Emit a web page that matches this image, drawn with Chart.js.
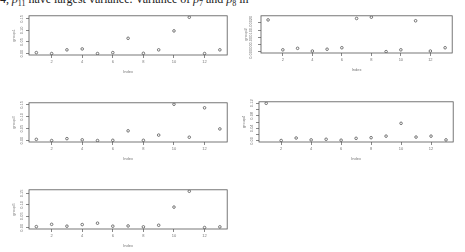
<!DOCTYPE html>
<html>
<head>
<meta charset="utf-8">
<script src="https://cdn.jsdelivr.net/npm/chart.js@4/dist/chart.umd.min.js"></script>
<style>
  body { margin: 0; width: 465px; height: 252px; background: #fff; overflow: hidden; position: relative; }
  canvas { position: absolute; }
  #caption { position: absolute; left: 0; top: -8px; font: 12px "Liberation Serif", serif; color: #222; white-space: nowrap; }
  #caption sub { font-size: 8px; }
</style>
</head>
<body>
<div id="caption">4, <i>ρ</i><sub>11</sub> have largest variance. Variance of <i>ρ</i><sub>7</sub> and <i>ρ</i><sub>8</sub> in</div>
<canvas id="c1" width="232" height="66" style="left:0px;top:11px"></canvas>
<canvas id="c2" width="225" height="64" style="left:232px;top:11px"></canvas>
<canvas id="c3" width="232" height="66" style="left:0px;top:98px"></canvas>
<canvas id="c4" width="228" height="67" style="left:230px;top:97px"></canvas>
<canvas id="c5" width="232" height="66" style="left:0px;top:185px"></canvas>
<script>
// index 1..13
const index = [1, 2, 3, 4, 5, 6, 7, 8, 9, 10, 11, 12, 13];
const xTicks = [2, 4, 6, 8, 10, 12];

const group1 = [0.004, 0.000, 0.016, 0.020, 0.000, 0.004, 0.066, 0.001, 0.016, 0.098, 0.157, 0.000, 0.016];
const group2 = [0.000221, 0.0000125, 0.000023, 0.000004, 0.0000167, 0.000027, 0.000231, 0.00024, 0.0, 0.0000125, 0.000215, 0.000004, 0.000027];
const group3 = [0.005, 0.000, 0.008, 0.003, 0.000, 0.001, 0.041, 0.001, 0.023, 0.153, 0.014, 0.138, 0.049];
const group4 = [0.120, 0.001, 0.009, 0.003, 0.005, 0.002, 0.008, 0.010, 0.015, 0.056, 0.012, 0.015, 0.003];
const group5 = [0.005, 0.015, 0.007, 0.014, 0.020, 0.007, 0.008, 0.004, 0.011, 0.090, 0.159, 0.001, 0.004];

const ticks1 = [0, 0.05, 0.10, 0.15];
const ticks2 = [0, 0.00005, 0.0001, 0.00015, 0.0002];
const ticks4 = [0, 0.02, 0.04, 0.06, 0.08, 0.10, 0.12];

const ink = "#555";
const txt = "#777";

// R style frame round the plot region
const boxPlugin = {
  id: "box",
  afterDraw(chart) {
    const a = chart.chartArea, c = chart.ctx;
    c.save();
    c.strokeStyle = ink;
    c.lineWidth = 0.8;
    c.strokeRect(a.left, a.top, a.right - a.left, a.bottom - a.top);
    c.restore();
  }
};

function makePanel(id, values, yTickVals, labelEvery, decimals, name) {
  const lo = Math.min(...values), hi = Math.max(...values);
  const ext = (hi - lo) * 0.04;
  return new Chart(document.getElementById(id), {
    type: "scatter",
    data: {
      datasets: [{
        data: index.map((x, i) => ({ x: x, y: values[i] })),
        pointStyle: "circle",
        pointRadius: 1.3,
        pointBorderWidth: 0.8,
        pointBorderColor: ink,
        pointBackgroundColor: "rgba(0,0,0,0)"
      }]
    },
    options: {
      responsive: false,
      devicePixelRatio: 1,
      animation: false,
      events: [],
      layout: { padding: { top: 2, right: 3, left: 0, bottom: 0 } },
      plugins: { legend: { display: false }, tooltip: { enabled: false } },
      scales: {
        x: {
          type: "linear",
          min: 0.52,
          max: 13.48,
          afterBuildTicks: (axis) => { axis.ticks = xTicks.map(v => ({ value: v })); },
          afterFit: (axis) => { axis.height = 22; },
          grid: { drawOnChartArea: false, drawTicks: true, tickLength: 3, color: ink, lineWidth: 0.7 },
          border: { display: false },
          ticks: { autoSkip: false, maxRotation: 0, padding: 1, color: txt, font: { size: 4, family: "Liberation Sans" } },
          title: { display: true, text: "Index", color: txt, font: { size: 4, family: "Liberation Sans" }, padding: { top: 0, bottom: 2.6 } }
        },
        y: {
          type: "linear",
          min: lo - ext,
          max: hi + ext,
          afterBuildTicks: (axis) => { axis.ticks = yTickVals.map(v => ({ value: v })); },
          afterFit: (axis) => { axis.width = 29; },
          grid: { drawOnChartArea: false, drawTicks: true, tickLength: 3, color: ink, lineWidth: 0.7 },
          border: { display: false },
          ticks: {
            autoSkip: false,
            minRotation: 90,
            maxRotation: 90,
            crossAlign: "center",
            padding: 0,
            color: txt,
            font: { size: 4, family: "Liberation Sans" },
            callback: (v, i) => (i % labelEvery === 0 ? Number(v).toFixed(decimals) : "")
          },
          title: { display: true, text: name, color: txt, font: { size: 4, family: "Liberation Sans" }, padding: { top: 11.6, bottom: 0 } }
        }
      }
    },
    plugins: [boxPlugin]
  });
}

makePanel("c1", group1, ticks1, 1, 2, "group1");
makePanel("c2", group2, ticks2, 2, 5, "group2");
makePanel("c3", group3, ticks1, 1, 2, "group3");
makePanel("c4", group4, ticks4, 2, 2, "group4");
makePanel("c5", group5, ticks1, 1, 2, "group5");
</script>
</body>
</html>
